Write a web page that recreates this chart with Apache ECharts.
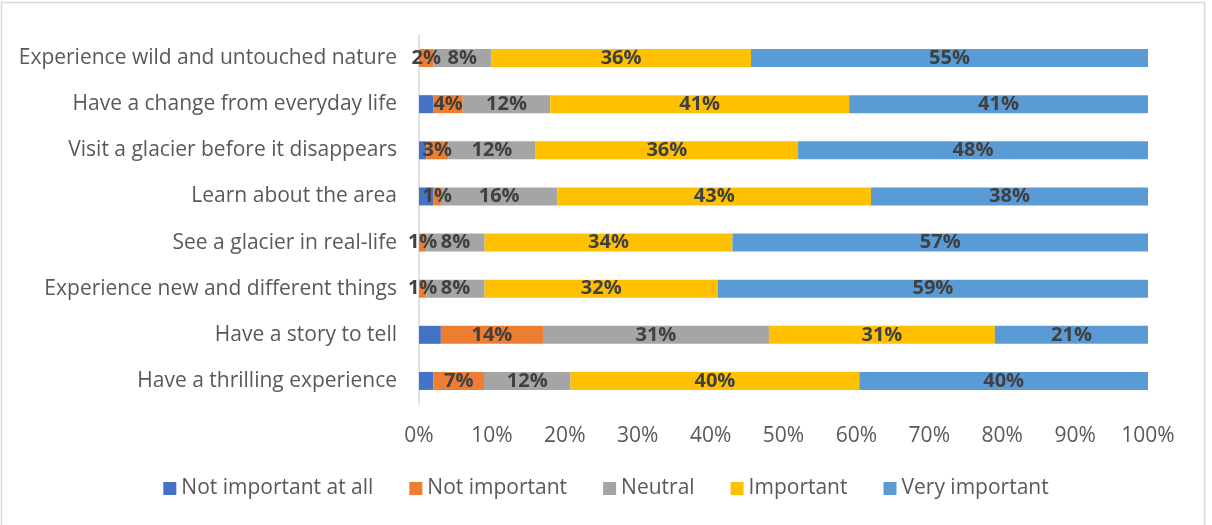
<!DOCTYPE html>
<html>
<head>
<meta charset="utf-8">
<title>Motivations</title>
<script src="https://cdn.jsdelivr.net/npm/echarts@6/dist/echarts.min.js"></script>
<style>
  html, body { margin: 0; padding: 0; background: #ffffff; }
  #chart { width: 1212px; height: 525px; }
</style>
</head>
<body>
<div id="chart"></div>
<script>
// Reasons, listed top to bottom
const categories = [
  'Experience wild and untouched nature',
  'Have a change from everyday life',
  'Visit a glacier before it disappears',
  'Learn about the area',
  'See a glacier in real-life',
  'Experience new and different things',
  'Have a story to tell',
  'Have a thrilling experience'
];

// Share of respondents (%) per answer level, same order as categories
const notImportantAtAll = [0, 2, 1, 2, 0, 0, 3, 2];
const notImportant      = [2, 4, 3, 1, 1, 1, 14, 7];
const neutral           = [8, 12, 12, 16, 8, 8, 31, 12];
const important         = [36, 41, 36, 43, 34, 32, 31, 40];
const veryImportant     = [55, 41, 48, 38, 57, 59, 21, 40];

const xTicks = [0, 10, 20, 30, 40, 50, 60, 70, 80, 90, 100];

const levels = [
  { name: 'Not important at all', values: notImportantAtAll, color: '#4472C4', label: false },
  { name: 'Not important',        values: notImportant,      color: '#ED7D31', label: true },
  { name: 'Neutral',              values: neutral,           color: '#A5A5A5', label: true },
  { name: 'Important',            values: important,         color: '#FFC000', label: true },
  { name: 'Very important',       values: veryImportant,     color: '#5B9BD5', label: true }
];

// Each row is scaled to a 100% stack; labels show the stated percentages
const rowTotals = categories.map((_, i) => levels.reduce((s, l) => s + l.values[i], 0));

const FONT = '"Open Sans", Lato, sans-serif';
const TEXT_SIZE = 21;

const series = levels.map(l => ({
  name: l.name,
  type: 'bar',
  stack: 'total',
  barWidth: 18,
  itemStyle: { color: l.color },
  label: {
    show: l.label,
    position: 'inside',
    fontFamily: FONT,
    fontWeight: 'bold',
    fontSize: 20,
    color: '#404040',
    formatter: p => l.values[p.dataIndex] + '%'
  },
  emphasis: { disabled: true },
  data: l.values.map((v, i) => v === 0 ? null : v / rowTotals[i] * 100)
}));

const chart = echarts.init(document.getElementById('chart'), null, { renderer: 'canvas' });
chart.setOption({
  animation: false,
  backgroundColor: '#ffffff',
  graphic: [{
    type: 'rect',
    shape: { x: 1.5, y: 2.5, width: 1203, height: 540 },
    style: { fill: 'none', stroke: '#d9d9d9', lineWidth: 1.5 },
    silent: true
  }],
  grid: { left: 419, right: 64, top: 35, bottom: 121, containLabel: false },
  legend: {
    bottom: 21,
    left: 'center',
    icon: 'rect',
    itemWidth: 13,
    itemHeight: 13,
    itemGap: 36,
    textStyle: { fontFamily: FONT, fontSize: TEXT_SIZE, color: '#595959' },
    data: levels.map(l => l.name)
  },
  xAxis: {
    type: 'value',
    min: xTicks[0],
    max: xTicks[xTicks.length - 1],
    interval: xTicks[1] - xTicks[0],
    axisLine: { show: false },
    axisTick: { show: false },
    splitLine: { show: false },
    axisLabel: {
      fontFamily: FONT,
      fontSize: TEXT_SIZE,
      color: '#595959',
      margin: 22,
      formatter: '{value}%'
    }
  },
  yAxis: {
    type: 'category',
    inverse: true,
    data: categories,
    axisLine: { show: true, lineStyle: { color: '#d9d9d9', width: 1.5 } },
    axisTick: { show: false },
    axisLabel: {
      fontFamily: FONT,
      fontSize: TEXT_SIZE,
      color: '#595959',
      margin: 22
    }
  },
  series: series
});
</script>
</body>
</html>
